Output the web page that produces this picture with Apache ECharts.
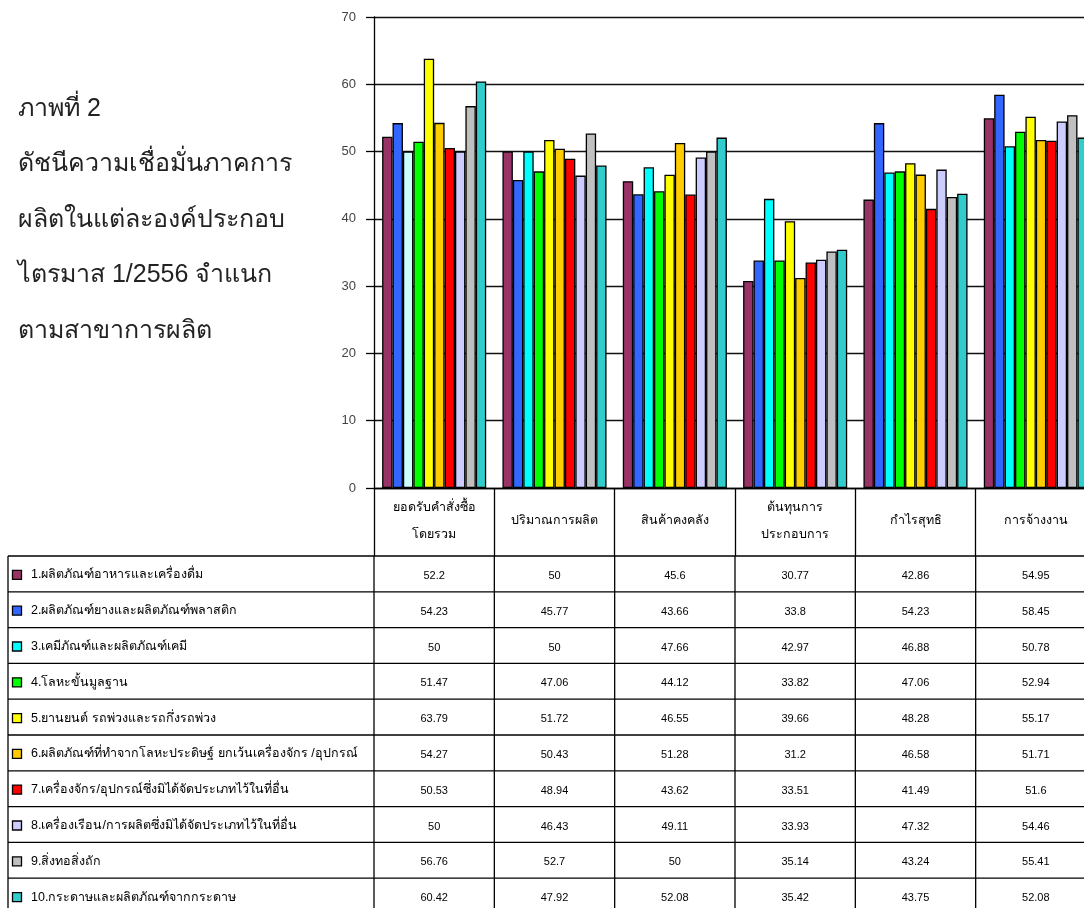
<!DOCTYPE html>
<html>
<head>
<meta charset="utf-8">
<script src="https://cdn.jsdelivr.net/npm/echarts@6/dist/echarts.min.js"></script>
<style>
html,body{margin:0;padding:0;background:#fff;overflow:hidden;}
#c{width:1100px;height:908px;}
</style>
</head>
<body>
<div id="c"></div>
<script>
var categories = ["ยอดรับคำสั่งซื้อ\nโดยรวม","ปริมาณการผลิต","สินค้าคงคลัง","ต้นทุนการ\nประกอบการ","กำไรสุทธิ","การจ้างงาน"];
var seriesNames = [
 "1.ผลิตภัณฑ์อาหารและเครื่องดื่ม",
 "2.ผลิตภัณฑ์ยางและผลิตภัณฑ์พลาสติก",
 "3.เคมีภัณฑ์และผลิตภัณฑ์เคมี",
 "4.โลหะขั้นมูลฐาน",
 "5.ยานยนต์ รถพ่วงและรถกึ่งรถพ่วง",
 "6.ผลิตภัณฑ์ที่ทำจากโลหะประดิษฐ์ ยกเว้นเครื่องจักร /อุปกรณ์",
 "7.เครื่องจักร/อุปกรณ์ซึ่งมิได้จัดประเภทไว้ในที่อื่น",
 "8.เครื่องเรือน/การผลิตซึ่งมิได้จัดประเภทไว้ในที่อื่น",
 "9.สิ่งทอสิ่งถัก",
 "10.กระดาษและผลิตภัณฑ์จากกระดาษ"
];
var s1 = [52.2, 50, 45.6, 30.77, 42.86, 54.95];
var s2 = [54.23, 45.77, 43.66, 33.8, 54.23, 58.45];
var s3 = [50, 50, 47.66, 42.97, 46.88, 50.78];
var s4 = [51.47, 47.06, 44.12, 33.82, 47.06, 52.94];
var s5 = [63.79, 51.72, 46.55, 39.66, 48.28, 55.17];
var s6 = [54.27, 50.43, 51.28, 31.2, 46.58, 51.71];
var s7 = [50.53, 48.94, 43.62, 33.51, 41.49, 51.6];
var s8 = [50, 46.43, 49.11, 33.93, 47.32, 54.46];
var s9 = [56.76, 52.7, 50, 35.14, 43.24, 55.41];
var s10 = [60.42, 47.92, 52.08, 35.42, 43.75, 52.08];
var seriesValues = [s1,s2,s3,s4,s5,s6,s7,s8,s9,s10];
var colors = ["#993366","#3366FF","#00FFFF","#00FF00","#FFFF00","#FFCC00","#FF0000","#CCCCFF","#C0C0C0","#33CCCC"];
var yTicks = [0,10,20,30,40,50,60,70];
var titleText = "ภาพที่ 2\nดัชนีความเชื่อมั่นภาคการ\nผลิตในแต่ละองค์ประกอบ\nไตรมาส 1/2556 จำแนก\nตามสาขาการผลิต";

var FONT = "Tahoma, 'Liberation Sans', Arial, sans-serif";
var NUMFONT = "'Liberation Sans', Arial, sans-serif";
var chart = echarts.init(document.getElementById('c'), null, {renderer:'canvas'});

var series = seriesValues.map(function(vals, i){
  return {
    name: seriesNames[i],
    type: 'bar',
    barGap: '0%',
    barCategoryGap: '13.5%',
    data: vals.map(function(v, j){
      // first category of series 3 drawn in light cyan, as in the reference
      if (i === 2 && j === 0) return {value: v, itemStyle: {color: '#CCFFFF'}};
      return v;
    }),
    itemStyle: {color: colors[i], borderColor: '#000', borderWidth: 1.3},
    emphasis: {disabled: true},
    animation: false
  };
});

var gridTop = 17, gridHeight = 471, gridLeft = 374, gridWidth = 722;
chart.setOption({
  animation: false,
  textStyle: {fontFamily: FONT},
  title: {
    text: titleText, left: 13, top: 76,
    textStyle: {fontSize: 25, fontWeight: 'normal', color: '#222', lineHeight: 55.5, fontFamily: FONT}
  },
  grid: {left: gridLeft, top: gridTop, width: gridWidth, height: gridHeight, containLabel: false},
  xAxis: {
    type: 'category', data: categories,
    axisLine: {show: true, lineStyle: {color: '#000', width: 1.3}},
    axisTick: {show: true, length: 68, interval: 0, lineStyle: {color: '#000', width: 1.3}},
    axisLabel: {interval: 0, color: '#000', fontSize: 12.5, lineHeight: 27, margin: 33, verticalAlign: 'middle', fontFamily: FONT}
  },
  yAxis: {
    type: 'value', min: yTicks[0], max: yTicks[yTicks.length-1], interval: 10,
    axisLine: {show: true, lineStyle: {color: '#000', width: 1.3}},
    axisTick: {show: true, length: 8, lineStyle: {color: '#000', width: 1.3}},
    axisLabel: {color: '#444', fontSize: 13, margin: 18, fontFamily: NUMFONT},
    splitLine: {show: true, lineStyle: {color: '#111', width: 1.3}}
  },
  series: series
});

// data table below the chart, aligned to the category axis
var p0 = chart.convertToPixel({xAxisIndex: 0}, 0);
var p1 = chart.convertToPixel({xAxisIndex: 0}, 1);
var catW = p1 - p0;
var axisY = chart.convertToPixel({yAxisIndex: 0}, 0);
var tableTop = axisY + 68;
var rowH = 35.8;
var tableLeft = 8;
var nRows = seriesNames.length;
var tableBottom = tableTop + rowH * nRows;
var rightEdge = p0 - catW/2 + catW * categories.length;
var g = [];
var lineStyle = {stroke: '#000', lineWidth: 1.3};
for (var r = 0; r <= nRows; r++) {
  var y = tableTop + r * rowH;
  g.push({type: 'line', shape: {x1: tableLeft, y1: y, x2: rightEdge, y2: y}, style: lineStyle, silent: true});
}
g.push({type: 'line', shape: {x1: tableLeft, y1: tableTop, x2: tableLeft, y2: tableBottom}, style: lineStyle, silent: true});
for (var c = 0; c <= categories.length; c++) {
  var x = p0 - catW/2 + c * catW;
  g.push({type: 'line', shape: {x1: x, y1: tableTop, x2: x, y2: tableBottom}, style: lineStyle, silent: true});
}
for (var r2 = 0; r2 < nRows; r2++) {
  var cy = tableTop + (r2 + 0.5) * rowH + 1;
  g.push({type: 'rect', shape: {x: 12.5, y: cy - 4.5, width: 9, height: 9},
          style: {fill: colors[r2], stroke: '#000', lineWidth: 1.3}, silent: true});
  g.push({type: 'text', x: 31, y: cy, style: {text: seriesNames[r2], fontSize: 12.5, fill: '#000',
          fontFamily: FONT, verticalAlign: 'middle', align: 'left'}, silent: true});
  for (var c2 = 0; c2 < categories.length; c2++) {
    var cx = chart.convertToPixel({xAxisIndex: 0}, c2);
    g.push({type: 'text', x: cx, y: cy + 1, style: {text: String(seriesValues[r2][c2]), fontSize: 11, fill: '#000',
            fontFamily: NUMFONT, align: 'center', verticalAlign: 'middle'}, silent: true});
  }
}
chart.setOption({graphic: {elements: g}});
</script>
</body>
</html>
